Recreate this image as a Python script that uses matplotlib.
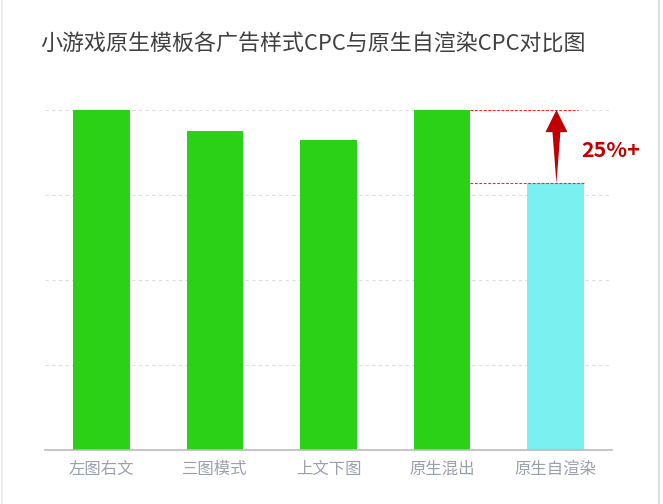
import matplotlib
matplotlib.use("Agg")
import matplotlib.pyplot as plt

plt.rcParams["font.family"] = ["Noto Sans CJK SC", "DejaVu Sans"]

TITLE = "小游戏原生模板各广告样式CPC与原生自渲染CPC对比图"
categories = ["左图右文", "三图模式", "上文下图", "原生混出", "原生自渲染"]
cpc = [1.00, 0.938, 0.912, 1.00, 0.785]
colors = ["#2ad117", "#2ad117", "#2ad117", "#2ad117", "#7bf0f0"]
yticks = [0, 0.25, 0.5, 0.75, 1.0]
lift_label = "25%+"
RED = "#c00000"

fig = plt.figure(figsize=(6.63, 5.04), dpi=100)
fig.patch.set_facecolor("white")
ax = fig.add_axes([45 / 663, 54 / 504, 567 / 663, 340 / 504])

x = list(range(len(categories)))
ax.bar(x, cpc, width=0.5, color=colors, zorder=2)
ax.set_xlim(-0.5, len(categories) - 0.5)
ax.set_ylim(0, 1.0)
ax.set_yticks(yticks)
ax.yaxis.grid(True, color="#dddddd", ls=(0, (3, 3)), lw=0.8, zorder=0)
ax.tick_params(axis="y", length=0, labelleft=False)
ax.tick_params(axis="x", length=0, pad=8)
ax.set_xticks(x)
ax.set_xticklabels(categories, color="#9aa0ab", fontsize=11.8)
for s in ("top", "right", "left"):
    ax.spines[s].set_visible(False)
ax.spines["bottom"].set_color("#bbbbbb")
ax.spines["bottom"].set_linewidth(1.2)

# comparison between 原生混出 and 原生自渲染
i_hi, i_lo = 3, 4
hi, lo = cpc[i_hi], cpc[i_lo]
x_left = i_hi + 0.25
ax.plot([x_left, i_lo + 0.2], [hi, hi], color="#ff2222", ls=(0, (2.5, 1.5)), lw=0.8, zorder=3)
ax.plot([x_left, i_lo + 0.25], [lo, lo], color="#ff2222", ls=(0, (2.5, 1.5)), lw=0.8, zorder=3)

# arrow: tapered shaft from the lower bar up to a wide head at the higher level
head_h, head_w, shaft_w = 0.065, 0.097, 0.035
xc = i_lo + 0.01
ax.fill([xc, xc - shaft_w, xc - head_w, xc, xc + head_w, xc + shaft_w],
        [lo, hi - head_h, hi - head_h, hi, hi - head_h, hi - head_h],
        color=RED, lw=0, zorder=4)
ax.text(i_lo + 0.23, hi - (hi - lo) * 0.55, lift_label, color=RED,
        fontsize=15.5, fontweight="bold", ha="left", va="center")

fig.text(40 / 663, 1 - 45 / 504, TITLE, fontsize=15.8, color="#404040", ha="left", va="center")

# card border lines
fig.add_artist(plt.Line2D([659 / 663, 659 / 663], [0, 1], color="#dddddd", lw=1.5))
fig.add_artist(plt.Line2D([2 / 663, 2 / 663], [0, 1], color="#eeeeee", lw=1.5))

fig.savefig("out.png", dpi=100, facecolor="white")
